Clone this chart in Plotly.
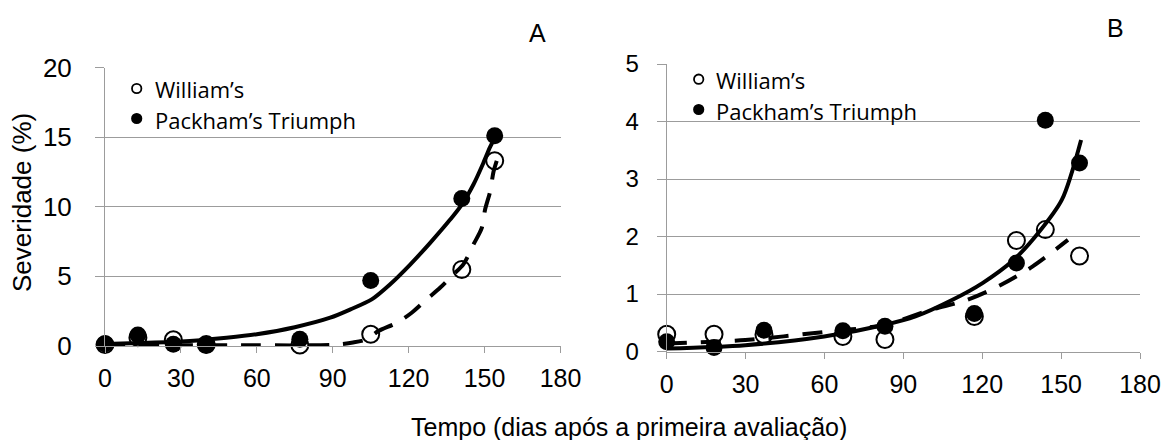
import plotly.graph_objects as go

W, H = 1164, 440

# ---------------- Panel A data ----------------
a_days = [0, 13, 27, 40, 77, 105, 141, 154]
a_williams = [0.1, 0.6, 0.45, 0.1, 0.07, 0.84, 5.5, 13.3]
a_packham = [0.15, 0.79, 0.12, 0.07, 0.48, 4.7, 10.6, 15.1]

a_fit_pack_x = [0, 10, 30, 48, 60, 75, 89, 97, 105.4, 112.6, 120.6, 128.5, 136.4, 141, 145.6, 149.5, 152.2, 154]
a_fit_pack_y = [0.15, 0.2, 0.32, 0.6, 0.85, 1.35, 2.03, 2.63, 3.35, 4.42, 5.85, 7.41, 9.08, 10.16, 11.6, 13.14, 14.3, 14.9]

a_fit_will_x = [0, 30, 60, 90, 98, 103.4, 108, 115.3, 121.2, 127.1, 132.4, 137.7, 141.6, 145.6, 148.9, 150.2, 152.2, 153.5, 154.8]
a_fit_will_y = [0.05, 0.05, 0.05, 0.08, 0.25, 0.48, 1.07, 1.67, 2.39, 3.35, 4.18, 5.14, 5.86, 7.29, 8.48, 9.8, 11.1, 12.5, 13.3]

# ---------------- Panel B data ----------------
b_days = [0, 18, 37, 67, 83, 117, 133, 144, 157]
b_williams = [0.3, 0.3, 0.29, 0.26, 0.21, 0.61, 1.93, 2.12, 1.66]
b_packham = [0.17, 0.07, 0.37, 0.36, 0.44, 0.66, 1.54, 4.02, 3.28]

b_fit_pack_x = [0, 29.9, 59.9, 82.6, 94.6, 108.7, 120.1, 132.1, 141.3, 150.3, 157.6]
b_fit_pack_y = [0.05, 0.11, 0.26, 0.46, 0.61, 0.90, 1.19, 1.60, 2.06, 2.64, 3.68]

b_fit_will_x = [0, 29.9, 59.9, 82.6, 100.1, 114.4, 127.2, 139.2, 152.6]
b_fit_will_y = [0.14, 0.2, 0.34, 0.46, 0.72, 0.9, 1.16, 1.48, 1.94]

x_ticks = [0, 30, 60, 90, 120, 150, 180]
a_y_ticks = [0, 5, 10, 15, 20]
b_y_ticks = [0, 1, 2, 3, 4, 5]

legend_labels = ["William\u2019s", "Packham\u2019s Triumph"]
x_title = "Tempo (dias após a primeira avaliação)"
y_title = "Severidade (%)"
panel_labels = ["A", "B"]

ARIAL = "Liberation Sans, Arial, sans-serif"
LEGF = "Open Sans, Carlito, Calibri, sans-serif"
GRID = "#9c9c9c"


def px(x):
    return x / W


def py(y):
    return 1 - y / H


fig = go.Figure()

line_w = 4
dash = "20px,14px"
msize = 17

# Panel A
fig.add_trace(go.Scatter(x=a_fit_will_x, y=a_fit_will_y, mode="lines", line=dict(color="black", width=line_w, dash=dash, shape="spline", smoothing=0.8), xaxis="x", yaxis="y", showlegend=False, hoverinfo="skip"))
fig.add_trace(go.Scatter(x=a_fit_pack_x, y=a_fit_pack_y, mode="lines", line=dict(color="black", width=line_w, shape="spline", smoothing=0.8), xaxis="x", yaxis="y", showlegend=False, hoverinfo="skip"))
fig.add_trace(go.Scatter(x=a_days, y=a_williams, mode="markers", marker=dict(symbol="circle-open", size=msize, color="black", line=dict(width=2, color="black")), xaxis="x", yaxis="y", cliponaxis=False, showlegend=False))
fig.add_trace(go.Scatter(x=a_days, y=a_packham, mode="markers", marker=dict(symbol="circle", size=msize, color="black"), xaxis="x", yaxis="y", cliponaxis=False, showlegend=False))

# Panel B
fig.add_trace(go.Scatter(x=b_fit_will_x, y=b_fit_will_y, mode="lines", line=dict(color="black", width=line_w, dash=dash, shape="spline", smoothing=0.8), xaxis="x2", yaxis="y2", showlegend=False, hoverinfo="skip"))
fig.add_trace(go.Scatter(x=b_fit_pack_x, y=b_fit_pack_y, mode="lines", line=dict(color="black", width=line_w, shape="spline", smoothing=0.8), xaxis="x2", yaxis="y2", showlegend=False, hoverinfo="skip"))
fig.add_trace(go.Scatter(x=b_days, y=b_williams, mode="markers", marker=dict(symbol="circle-open", size=msize, color="black", line=dict(width=2, color="black")), xaxis="x2", yaxis="y2", cliponaxis=False, showlegend=False))
fig.add_trace(go.Scatter(x=b_days, y=b_packham, mode="markers", marker=dict(symbol="circle", size=msize, color="black"), xaxis="x2", yaxis="y2", cliponaxis=False, showlegend=False))


def xaxis(domain, anchor):
    return dict(domain=domain, anchor=anchor, range=[0, 180], tickvals=x_ticks, ticktext=[str(v) for v in x_ticks],
                showgrid=False, zeroline=False, showline=True, linecolor=GRID, linewidth=1,
                ticks="outside", ticklen=6, tickcolor=GRID, tickwidth=1, automargin=False,
                tickfont=dict(family=ARIAL, size=25, color="black"), ticklabelstandoff=4)


def yaxis(domain, anchor, rng, vals, size, standoff):
    return dict(domain=domain, anchor=anchor, range=rng, tickvals=vals, ticktext=[str(v) for v in vals],
                showgrid=True, gridcolor=GRID, gridwidth=1, zeroline=False,
                showline=True, linecolor=GRID, linewidth=1, automargin=False,
                ticks="outside", ticklen=9, tickcolor=GRID, tickwidth=1,
                tickfont=dict(family=ARIAL, size=size, color="black"), ticklabelstandoff=standoff)


fig.update_layout(
    width=W, height=H, margin=dict(l=0, r=0, t=0, b=0),
    paper_bgcolor="white", plot_bgcolor="white",
    showlegend=False,
    xaxis=xaxis([px(105), px(560.5)], "y"),
    yaxis=yaxis([py(346), py(67.5)], "x", [0, 20], a_y_ticks, 26, 18),
    xaxis2=xaxis([px(666.7), px(1140)], "y2"),
    yaxis2=yaxis([py(351.5), py(64)], "x2", [0, 5], b_y_ticks, 24, 13),
)

annotations = []
shapes = []

# Titles
annotations.append(dict(text=y_title, x=px(22), y=py(203), xref="paper", yref="paper", showarrow=False, textangle=-90,
                        font=dict(family=ARIAL, size=26, color="black"), xanchor="center", yanchor="middle"))
annotations.append(dict(text=x_title, x=px(629), y=py(427), xref="paper", yref="paper", showarrow=False,
                        font=dict(family=ARIAL, size=25, color="black"), xanchor="center", yanchor="middle"))
annotations.append(dict(text=panel_labels[0], x=px(537), y=py(33), xref="paper", yref="paper", showarrow=False,
                        font=dict(family=ARIAL, size=25, color="black"), xanchor="center", yanchor="middle"))
annotations.append(dict(text=panel_labels[1], x=px(1115), y=py(28), xref="paper", yref="paper", showarrow=False,
                        font=dict(family=ARIAL, size=25, color="black"), xanchor="center", yanchor="middle"))

# Manual legends (small markers like the original)
r = 4.7
for (cx, rows, tx) in [(136.7, (88.5, 118.5), 152.5), (698.7, (79.2, 109.5), 713.5)]:
    for i, cy in enumerate(rows):
        open_ = i == 0
        shapes.append(dict(type="circle", xref="paper", yref="paper",
                           x0=px(cx - r), x1=px(cx + r), y0=py(cy + r), y1=py(cy - r),
                           line=dict(color="black", width=1.8),
                           fillcolor="white" if open_ else "black"))
        annotations.append(dict(text=legend_labels[i], x=px(tx), y=py(cy + 1), xref="paper", yref="paper",
                                showarrow=False, xanchor="left", yanchor="middle",
                                font=dict(family=LEGF, size=22, color="black")))

# The top gridline of panel B stops short of the right edge in the original
shapes.append(dict(type="line", xref="x2", yref="y2", x0=160, x1=181, y0=5, y1=5,
                   line=dict(color="white", width=3), layer="above"))

fig.update_layout(annotations=annotations, shapes=shapes)
fig.write_html("out.html")
